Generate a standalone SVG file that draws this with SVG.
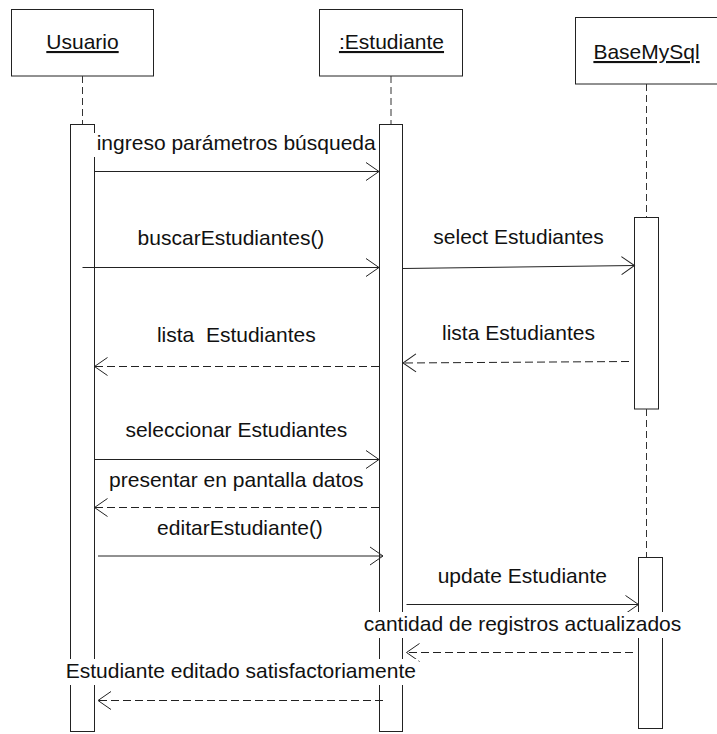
<svg xmlns="http://www.w3.org/2000/svg" width="717" height="734" viewBox="0 0 717 734">
<style>
.box{fill:#fff;stroke:#222;stroke-width:1}
.bar{fill:#fff;stroke:#222;stroke-width:1}
.life{stroke:#333;stroke-width:1;stroke-dasharray:7 4;fill:none}
.msg{stroke:#222;stroke-width:1;fill:none;marker-end:url(#open)}
.ret{stroke:#222;stroke-width:1;fill:none;stroke-dasharray:8 4;marker-end:url(#open)}
.lbl{font-family:"Liberation Sans",Arial,sans-serif;font-size:21px;fill:#111;text-anchor:middle}
.name{font-family:"Liberation Sans",Arial,sans-serif;font-size:21px;fill:#111;text-anchor:middle;text-decoration:underline}
.bg{fill:#fff;stroke:none}
</style>
<defs>
<marker id="open" markerUnits="userSpaceOnUse" markerWidth="30" markerHeight="30" refX="0" refY="0" viewBox="-15 -15 30 30" orient="auto" overflow="visible">
<path d="M-13,-9 L0,0 L-13,9" fill="none" stroke="#222" stroke-width="1"/>
</marker>
</defs>
<rect width="717" height="734" fill="#fff"/>
<g id="usuario">
<rect class="box" x="11.5" y="9.5" width="142" height="66.5"/>
<text class="name" x="82.5" y="49">Usuario</text>
<line class="life" x1="82.5" y1="76" x2="82.5" y2="124"/>
<rect class="bar" x="70.5" y="124.5" width="24" height="607"/>
</g>
<g id="estudiante">
<rect class="box" x="319.5" y="9.5" width="143" height="66.5"/>
<text class="name" x="391.5" y="49">:Estudiante</text>
<line class="life" x1="391" y1="76" x2="391" y2="124"/>
<rect class="bar" x="379.5" y="124.5" width="23" height="607"/>
</g>
<g id="basemysql">
<rect class="box" x="575.5" y="17.5" width="143" height="66.5"/>
<text class="name" x="646.5" y="59">BaseMySql</text>
<line class="life" x1="646.5" y1="84" x2="646.5" y2="217"/>
<rect class="bar" x="634.5" y="217.5" width="24" height="191.5"/>
<line class="life" x1="646.5" y1="409" x2="646.5" y2="557"/>
<rect class="bar" x="638.5" y="557.5" width="24" height="171"/>
</g>
<g id="connectors">
<line class="msg" x1="94.5" y1="171.5" x2="379" y2="171.5"/>
<line class="msg" x1="82.5" y1="267.5" x2="379" y2="267.5"/>
<line class="msg" x1="403" y1="268.5" x2="634.5" y2="265.5"/>
<line class="ret" x1="629" y1="361.5" x2="403" y2="363"/>
<line class="ret" x1="379" y1="366.5" x2="94.5" y2="366.5"/>
<line class="msg" x1="94.5" y1="459.5" x2="379" y2="459.5"/>
<line class="ret" x1="379" y1="507.5" x2="94.5" y2="507.5"/>
<line class="msg" x1="98" y1="556" x2="383" y2="556"/>
<line class="msg" x1="406.5" y1="604.5" x2="638.5" y2="604.5"/>
<line class="ret" x1="633" y1="652.5" x2="406.5" y2="652.5"/>
<line class="ret" x1="383" y1="700.5" x2="98" y2="700.5"/>
</g>
<g id="labels">
<rect class="bg" x="93.5" y="133" width="284.5" height="24"/>
<text class="lbl" x="236.2" y="150">ingreso parámetros búsqueda</text>
<text class="lbl" x="231" y="245">buscarEstudiantes()</text>
<text class="lbl" x="518.5" y="244">select Estudiantes</text>
<text class="lbl" x="236.3" y="342" xml:space="preserve">lista  Estudiantes</text>
<text class="lbl" x="518.5" y="340">lista Estudiantes</text>
<text class="lbl" x="236.3" y="437">seleccionar Estudiantes</text>
<text class="lbl" x="236.3" y="487">presentar en pantalla datos</text>
<text class="lbl" x="240" y="535">editarEstudiante()</text>
<text class="lbl" x="522.3" y="583">update Estudiante</text>
<rect class="bg" x="361" y="612" width="323" height="26"/>
<text class="lbl" x="522.5" y="631">cantidad de registros actualizados</text>
<rect class="bg" x="63.5" y="659" width="355" height="26"/>
<text class="lbl" x="240.8" y="678">Estudiante editado satisfactoriamente</text>
</g>
</svg>
